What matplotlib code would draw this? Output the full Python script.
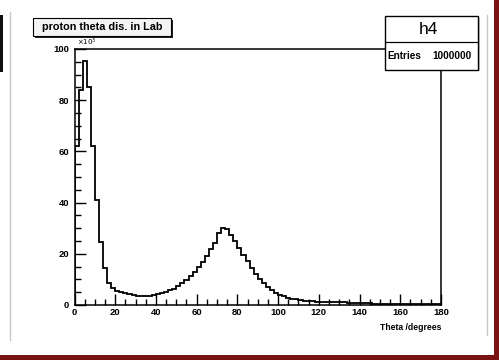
import numpy as np
import matplotlib.pyplot as plt
from matplotlib.patches import Rectangle
from matplotlib.lines import Line2D

plt.rcParams['font.family'] = ['Liberation Sans', 'DejaVu Sans']

# histogram h4: proton theta in lab, 2 degree bins, counts in units of 10^3
bin_edges = np.arange(0, 182, 2)
counts = [
    62.0, 84.0, 95.5, 85.0, 62.0, 41.0, 24.5, 14.5, 8.5, 6.5,      # 0-20
    5.6, 5.0, 4.6, 4.2, 3.9, 3.7, 3.6, 3.6, 3.7, 3.9,              # 20-40
    4.2, 4.6, 5.1, 5.7, 6.4, 7.3, 8.4, 9.7, 11.2, 12.9,            # 40-60
    14.8, 16.9, 19.2, 21.7, 24.3, 28.0, 30.0, 29.5, 27.5, 25.0,    # 60-80
    22.3, 19.5, 17.0, 14.5, 12.2, 10.2, 8.5, 7.0, 5.8, 4.8,        # 80-100
    4.0, 3.4, 2.9, 2.5, 2.2, 1.9, 1.7, 1.5, 1.4, 1.3,              # 100-120
    1.25, 1.2, 1.15, 1.1, 1.05, 1.0, 1.0, 0.95, 0.9, 0.9,          # 120-140
    0.85, 0.6, 0.6, 0.55, 0.55, 0.5, 0.5, 0.45, 0.45, 0.4,         # 140-160
    0.4, 0.4, 0.35, 0.35, 0.35, 0.3, 0.3, 0.3, 0.3, 0.3,           # 160-180
]
hist_name = 'h4'
n_entries = 1000000
title = 'proton theta dis. in Lab'
x_title = 'Theta /degrees'

W, H = 499, 360
fig = plt.figure(figsize=(W / 100, H / 100), dpi=100)
fig.patch.set_facecolor('white')

def fx(px):
    return px / W

def fy(py):
    return 1 - py / H

ax = fig.add_axes([fx(74.5), fy(305), fx(441) - fx(74.5), fy(49) - fy(305)])
ax.stairs(counts, bin_edges, color='black', linewidth=1.3)
ax.set_xlim(0, 180)
ax.set_ylim(0, 100)

ax.set_xticks(np.arange(0, 181, 20))
ax.set_xticks(np.arange(0, 181, 5), minor=True)
ax.set_yticks(np.arange(0, 101, 20))
ax.set_yticks(np.arange(0, 101, 5), minor=True)
ax.tick_params(which='major', direction='in', length=8, width=1.0, labelsize=6.8)
ax.tick_params(which='minor', direction='in', length=4, width=1.0)
ax.tick_params(axis='x', pad=2)
ax.tick_params(axis='y', pad=4)
for lab in ax.get_xticklabels() + ax.get_yticklabels():
    lab.set_fontweight('bold')
    lab.set_fontstretch('condensed')
for s in ax.spines.values():
    s.set_linewidth(1.1)

ax.text(0.006, 1.003, r'$\times10^{3}$', transform=ax.transAxes, fontsize=5,
        ha='left', va='bottom')
ax.text(1.0, -0.072, x_title, transform=ax.transAxes, fontsize=6.2,
        fontweight='bold', ha='right', va='top')

# title box with shadow
fig.add_artist(Rectangle((fx(35), fy(38)), fx(173) - fx(35), fy(20) - fy(38),
                         transform=fig.transFigure, facecolor='#222222',
                         edgecolor='none'))
fig.add_artist(Rectangle((fx(33), fy(36)), fx(171) - fx(33), fy(18) - fy(36),
                         transform=fig.transFigure, facecolor='#f4f4f4',
                         edgecolor='black', linewidth=0.8))
fig.text(fx(102.5), fy(27), title, fontsize=7.8, fontweight='bold',
         ha='center', va='center')

# stats box
fig.add_artist(Rectangle((fx(386.5), fy(71)), fx(479.5) - fx(386.5), fy(18) - fy(71),
                         transform=fig.transFigure, facecolor='#cccccc',
                         edgecolor='none'))
fig.add_artist(Rectangle((fx(385), fy(69.5)), fx(477.5) - fx(385), fy(16) - fy(69.5),
                         transform=fig.transFigure, facecolor='white',
                         edgecolor='black', linewidth=1.0))
fig.add_artist(Line2D([fx(385), fx(477.5)], [fy(42), fy(42)],
                      transform=fig.transFigure, color='black', linewidth=0.9))
fig.text(fx(428), fy(29.5), hist_name, fontsize=12.5, ha='center', va='center')
fig.text(fx(387.5), fy(56), 'Entries', fontsize=7.2, fontweight='bold',
         ha='left', va='center')
fig.text(fx(472), fy(56), str(n_entries), fontsize=7.2, fontweight='bold',
         ha='right', va='center')

# canvas edges
fig.add_artist(Line2D([fx(10), fx(10)], [fy(12), fy(340)],
                      transform=fig.transFigure, color='#c8c8c8', linewidth=1))
fig.add_artist(Line2D([fx(487), fx(487)], [fy(15), fy(335)],
                      transform=fig.transFigure, color='#c8c8c8', linewidth=1))
fig.add_artist(Rectangle((0, fy(72)), fx(3), fy(15) - fy(72),
                         transform=fig.transFigure, facecolor='#111111',
                         edgecolor='none'))
fig.add_artist(Rectangle((fx(494), 0), fx(5), 1, transform=fig.transFigure,
                         facecolor='#7a1414', edgecolor='none'))
fig.add_artist(Rectangle((0, 0), 1, fy(355), transform=fig.transFigure,
                         facecolor='#7a1414', edgecolor='none'))

fig.savefig('out.png', dpi=100)
